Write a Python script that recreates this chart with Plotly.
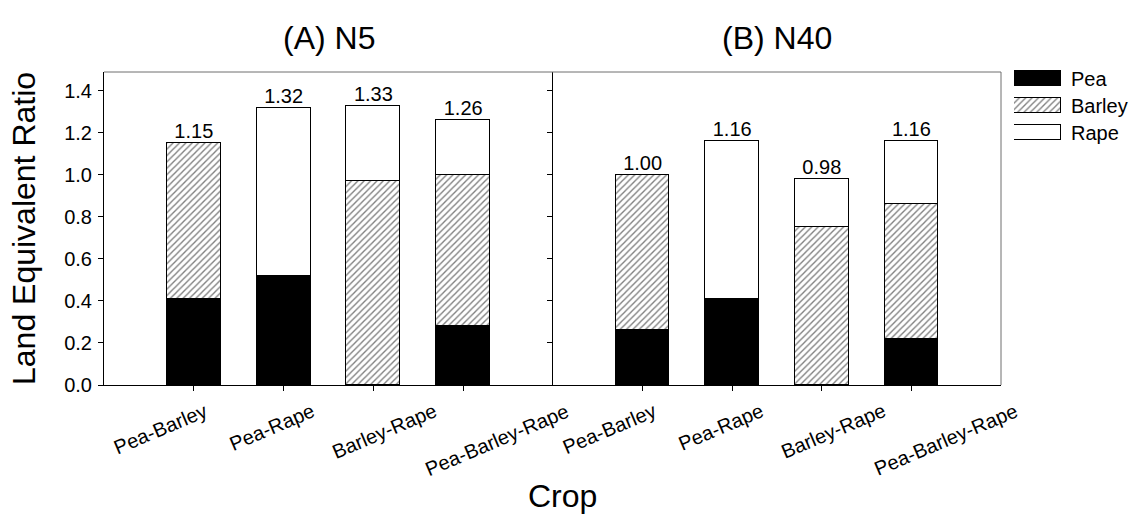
import plotly.graph_objects as go

# ---------------- data ----------------
crops = ["Pea-Barley", "Pea-Rape", "Barley-Rape", "Pea-Barley-Rape"]
panel_titles = ["(A) N5", "(B) N40"]

pea_n5 = [0.41, 0.52, 0.0, 0.28]
barley_n5 = [0.74, 0.0, 0.97, 0.72]
rape_n5 = [0.0, 0.80, 0.36, 0.26]
total_n5 = [1.15, 1.32, 1.33, 1.26]

pea_n40 = [0.26, 0.41, 0.0, 0.22]
barley_n40 = [0.74, 0.0, 0.75, 0.64]
rape_n40 = [0.0, 0.75, 0.23, 0.30]
total_n40 = [1.00, 1.16, 0.98, 1.16]

y_ticks = [0.0, 0.2, 0.4, 0.6, 0.8, 1.0, 1.2, 1.4]
legend_items = ["Pea", "Barley", "Rape"]

# ---------------- geometry ----------------
W, H = 1132, 514
ML, MR, MT, MB = 104, 0, 40, 129
PW, PH = W - ML - MR, H - MT - MB


def fx(p):
    return (p - ML) / PW


def fy(p):
    return (H - MB - p) / PH


FONT = "Liberation Sans, Arial, sans-serif"
SMALL = 20
BIG = 32
pos = list(range(len(crops)))

styles = {
    "Pea": dict(color="black", line=dict(color="black", width=1)),
    "Barley": dict(color="white", line=dict(color="black", width=1),
                   pattern=dict(shape="/", fgcolor="black", bgcolor="white",
                                size=4.5, solidity=0.3)),
    "Rape": dict(color="white", line=dict(color="black", width=1)),
}

fig = go.Figure()

panel_data = [
    ("x", "y", pea_n5, barley_n5, rape_n5, total_n5),
    ("x2", "y2", pea_n40, barley_n40, rape_n40, total_n40),
]

for xa, ya, pea, barley, rape, total in panel_data:
    for name, vals in zip(legend_items, [pea, barley, rape]):
        fig.add_trace(go.Bar(x=pos, y=vals, xaxis=xa, yaxis=ya, width=0.6,
                             marker=styles[name], name=name, showlegend=False))
    fig.add_trace(go.Scatter(x=pos, y=total, xaxis=xa, yaxis=ya, mode="text",
                             text=[f"{v:.2f}" for v in total],
                             textposition="top center", cliponaxis=False,
                             textfont=dict(family=FONT, size=SMALL, color="black"),
                             showlegend=False))

# legend drawn as a small horizontal bar chart
for name in legend_items:
    fig.add_trace(go.Bar(x=[1], y=[name], orientation="h", xaxis="x3", yaxis="y3",
                         width=0.52, marker=styles[name], showlegend=False))

xcommon = dict(range=[-1, 4], tickvals=pos, showticklabels=False, ticks="outside",
               ticklen=5, tickcolor="black", showline=True, mirror=False,
               linecolor="black", linewidth=1, showgrid=False, zeroline=False)
ycommon = dict(range=[0, 1.49], tickvals=y_ticks, tickformat=".1f", ticks="outside",
               ticklen=5, tickcolor="black", showline=True, mirror=False,
               linecolor="black", linewidth=1, showgrid=False, zeroline=False,
               domain=[0, fy(72)])

annotations = []
shapes = []
for ref, title in zip(["x", "x2"], panel_titles):
    annotations.append(dict(text=title, xref=f"{ref} domain", x=0.5, yref="paper",
                            y=fy(38), xanchor="center", yanchor="middle",
                            showarrow=False,
                            font=dict(family=FONT, size=BIG, color="black")))
    for i, c in enumerate(crops):
        annotations.append(dict(text=c, xref=ref, x=-1 + (i + 0.5) * 1.25,
                                yref="paper", y=0, yshift=-12, xanchor="center",
                                yanchor="top", textangle=-23, showarrow=False,
                                font=dict(family=FONT, size=SMALL, color="black")))
    # grey frame on top of each panel
    shapes.append(dict(type="line", xref=f"{ref} domain", x0=0, x1=1,
                       yref="y domain", y0=1, y1=1,
                       line=dict(color="#6e6e6e", width=1)))
# grey right edge of panel B
shapes.append(dict(type="line", xref="x2 domain", x0=1, x1=1, yref="y domain",
                   y0=0, y1=1, line=dict(color="#6e6e6e", width=1)))

annotations.append(dict(text="Land Equivalent Ratio", xref="paper", x=fx(24),
                        yref="paper", y=fy(229), textangle=-90, showarrow=False,
                        xanchor="center", yanchor="middle",
                        font=dict(family=FONT, size=BIG, color="black")))
annotations.append(dict(text="Crop", xref="paper", x=fx(562), yref="paper",
                        y=fy(496), showarrow=False, xanchor="center",
                        yanchor="middle",
                        font=dict(family=FONT, size=BIG, color="black")))

fig.update_layout(
    width=W, height=H,
    margin=dict(l=ML, r=MR, t=MT, b=MB),
    paper_bgcolor="white", plot_bgcolor="white",
    barmode="stack", bargap=0,
    showlegend=False,
    font=dict(family=FONT, color="black"),
    xaxis=dict(domain=[0, fx(553)], anchor="y", **xcommon),
    xaxis2=dict(domain=[fx(553), fx(1001)], anchor="y2", **xcommon),
    yaxis=dict(anchor="x", ticklabelstandoff=2,
               tickfont=dict(family=FONT, size=SMALL, color="black"), **ycommon),
    yaxis2=dict(anchor="x2", matches="y", showticklabels=False, **ycommon),
    xaxis3=dict(domain=[fx(1014), fx(1061)], anchor="y3", range=[0, 1],
                visible=False),
    yaxis3=dict(domain=[fy(146), fy(65)], anchor="x3", type="category",
                categoryorder="array", categoryarray=legend_items,
                autorange="reversed", side="right", showline=False, ticks="",
                showgrid=False, zeroline=False, ticklabelstandoff=9,
                tickfont=dict(family=FONT, size=SMALL, color="black")),
    annotations=annotations,
    shapes=shapes,
)

fig.write_html("out.html")
